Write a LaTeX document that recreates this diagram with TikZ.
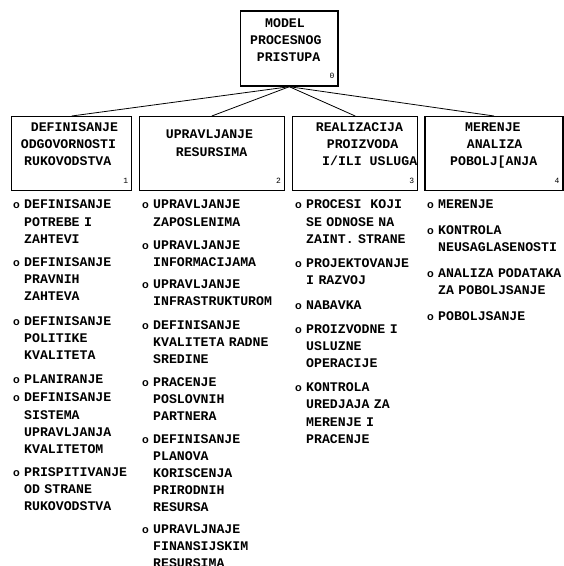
\documentclass[tikz,border=0pt]{standalone}
\usepackage{fontspec}
\setmonofont{Liberation Mono}
\newfontfamily\bulletfont{Liberation Sans}
% one bulleted entry: bullet on the first line, later lines hang under the text
\newcommand\bulletentry[1]{\noindent\hangindent=11pt\hangafter=1\strut\makebox[11pt][l]{\bulletfont\bfseries\fontsize{11}{11}\selectfont o}#1\par}
\begin{document}
\begin{tikzpicture}[x=1pt,y=-1pt,
  boxst/.style={draw, line width=1.4pt, inner sep=0pt, minimum height=74pt},
  boxtext/.style={anchor=north west, inner sep=0pt, align=left,
    font=\ttfamily\bfseries\fontsize{13.2}{17.1}\selectfont},
  entry/.style={anchor=north west, inner sep=0pt, text width=170pt, align=left,
    font=\ttfamily\bfseries\fontsize{13.2}{17.1}\selectfont},
  num/.style={inner sep=0pt, anchor=base east, font=\ttfamily\fontsize{8}{8}\selectfont},
  link/.style={line width=0.8pt}]
\useasboundingbox (0,0) rectangle (564,566);
\clip (0,0) rectangle (564,566);

% boxes
\node[boxst, minimum width=97.3pt, minimum height=75pt] (b0) at (289.35,48.5) {};
\node[boxst, minimum width=120pt] (b1) at (71.7,153.7) {};
\node[boxst, minimum width=145pt] (b2) at (211.8,153.7) {};
\node[boxst, minimum width=125pt] (b3) at (355.2,153.7) {};
\node[boxst, minimum width=138pt] (b4) at (494,153.7) {};

% box titles
\node[boxtext] (t0) at (250,15.1) {\strut\hspace*{15pt}MODEL\\PROCESNOG\\\hspace*{6.7pt}PRISTUPA};
\node[boxtext] (t1) at (20.7,119.5) {\strut\hspace*{10pt}DEFINISANJE\\ODGOVORNOSTI\\\hspace*{3.3pt}RUKOVODSTVA};
\node[boxtext] (t2) at (165.7,126.8) {\strut UPRAVLJANJE\\\hspace*{10pt}RESURSIMA};
\node[boxtext] (t3) at (315.7,119.5) {\strut REALIZACIJA\\\hspace*{11pt}PROIZVODA\\\hspace*{6.3pt}I/ILI USLUGA};
\node[boxtext] (t4) at (450,119.5) {\strut\hspace*{15pt}MERENJE\\\hspace*{16.7pt}ANALIZA\\POBOLJ[ANJA};

% box numbers
\node[num] (n0) at ([xshift=-4pt,yshift=8pt]b0.south east) {0};
\node[num] (n1) at ([xshift=-4pt,yshift=8pt]b1.south east) {1};
\node[num] (n2) at ([xshift=-4pt,yshift=8pt]b2.south east) {2};
\node[num] (n3) at ([xshift=-4pt,yshift=8pt]b3.south east) {3};
\node[num] (n4) at ([xshift=-4pt,yshift=8pt]b4.south east) {4};

% connectors
\draw[link] (b0.south) -- (b1.north);
\draw[link] (b0.south) -- (b2.north);
\draw[link] (b0.south) -- (b3.north);
\draw[link] (b0.south) -- (b4.north);

% column 1
\node[entry] (e11) at (13,196.8) {\bulletentry{DEFINISANJE\newline POTREBE I\newline ZAHTEVI}};
\node[entry] (e12) at (13,254.5) {\bulletentry{DEFINISANJE\newline PRAVNIH\newline ZAHTEVA}};
\node[entry] (e13) at (13,313.1) {\bulletentry{DEFINISANJE\newline POLITIKE\newline KVALITETA}};
\node[entry] (e14) at (13,371.6) {\bulletentry{PLANIRANJE}};
\node[entry] (e15) at (13,389.8) {\bulletentry{DEFINISANJE\newline SISTEMA\newline UPRAVLJANJA\newline KVALITETOM}};
\node[entry] (e16) at (13,464.5) {\bulletentry{PRISPITIVANJE\newline OD STRANE\newline RUKOVODSTVA}};

% column 2
\node[entry] (e21) at (142,196.8) {\bulletentry{UPRAVLJANJE\newline ZAPOSLENIMA}};
\node[entry] (e22) at (142,237.1) {\bulletentry{UPRAVLJANJE\newline INFORMACIJAMA}};
\node[entry] (e23) at (142,276.6) {\bulletentry{UPRAVLJANJE\newline INFRASTRUKTUROM}};
\node[entry] (e24) at (142,316.9) {\bulletentry{DEFINISANJE\newline KVALITETA RADNE\newline SREDINE}};
\node[entry] (e25) at (142,374.2) {\bulletentry{PRACENJE\newline POSLOVNIH\newline PARTNERA}};
\node[entry] (e26) at (142,431.4) {\bulletentry{DEFINISANJE\newline PLANOVA\newline KORISCENJA\newline PRIRODNIH\newline RESURSA}};
\node[entry] (e27) at (142,521.5) {\bulletentry{UPRAVLJNAJE\newline FINANSIJSKIM\newline RESURSIMA}};

% column 3
\node[entry] (e31) at (295,196.8) {\bulletentry{PROCESI\ \ KOJI\newline SE ODNOSE NA\newline ZAINT. STRANE}};
\node[entry] (e32) at (295,255.1) {\bulletentry{PROJEKTOVANJE\newline I RAZVOJ}};
\node[entry] (e33) at (295,297.3) {\bulletentry{NABAVKA}};
\node[entry] (e34) at (295,321.4) {\bulletentry{PROIZVODNE I\newline USLUZNE\newline OPERACIJE}};
\node[entry] (e35) at (295,379.7) {\bulletentry{KONTROLA\newline UREDJAJA ZA\newline MERENJE I\newline PRACENJE}};

% column 4
\node[entry] (e41) at (427,196.8) {\bulletentry{MERENJE}};
\node[entry] (e42) at (427,222.1) {\bulletentry{KONTROLA\newline NEUSAGLASENOSTI}};
\node[entry] (e43) at (427,265.1) {\bulletentry{ANALIZA PODATAKA\newline ZA POBOLJSANJE}};
\node[entry] (e44) at (427,308.2) {\bulletentry{POBOLJSANJE}};
\end{tikzpicture}
\end{document}
